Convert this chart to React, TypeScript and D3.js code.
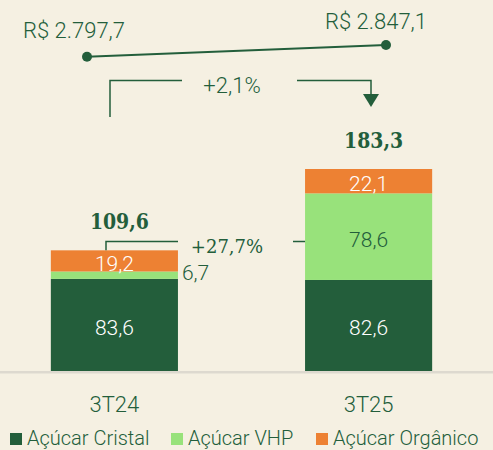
import React from "react";
import * as d3 from "d3";

const categories = ["3T24", "3T25"];
const seriesNames = ["Açúcar Cristal", "Açúcar VHP", "Açúcar Orgânico"];
const cristal = [83.6, 82.6];
const vhp = [6.7, 78.6];
const organico = [19.2, 22.1];
const totals = [109.6, 183.3];
const prices = [2797.7, 2847.1];
const priceLabels = ["R$ 2.797,7", "R$ 2.847,1"];
const priceChange = "+2,1%";
const volumeChange = "+27,7%";

const W = 493;
const H = 450;
const BG = "#f5f0e2";
const DARK = "#235e3b";
const LIGHT = "#98e27b";
const ORANGE = "#ed8133";
const TEXT = "#235e3b";
const SANS = "Roboto, 'Noto Sans', sans-serif";
const SERIF = "'Roboto Slab', 'DejaVu Serif', serif";

const fmt = (v: number) => v.toFixed(1).replace(".", ",");

export default function App() {
  const x = d3.scaleBand<string>().domain(categories).range([0, 483]).paddingInner(0.5).paddingOuter(0.2);
  const y = d3.scaleLinear().domain([0, 183.3]).range([371, 169]);
  const px = d3.scalePoint<string>().domain(categories).range([87, 386]);
  const py = d3.scaleLinear().domain([2797.7, 2847.1]).range([56.7, 45]);

  const rows = categories.map((c, i) => ({ cat: c, cristal: cristal[i], vhp: vhp[i], organico: organico[i] }));
  const keys = ["cristal", "vhp", "organico"];
  const stack = d3.stack<any>().keys(keys)(rows);
  const colors = [DARK, LIGHT, ORANGE];
  const labelColors = ["#ffffff", TEXT, "#ffffff"];

  const line = d3.line<number>().x((_, i) => px(categories[i])!).y((d) => py(d));

  const bw = x.bandwidth();
  const x0 = x(categories[0])!;
  const x1 = x(categories[1])!;
  const top0 = y(totals[0]);

  return (
    <svg width={W} height={H} style={{ position: "absolute", left: 0, top: 0, background: BG }}>
      <rect x={0} y={0} width={W} height={H} fill={BG} />
      {/* price line */}
      <path d={line(prices) || ""} fill="none" stroke={DARK} strokeWidth={2} />
      {prices.map((p, i) => (
        <circle key={i} cx={px(categories[i])} cy={py(p)} r={5} fill={DARK} />
      ))}
      <text x={23} y={38} fontFamily={SANS} fontWeight={300} fontSize={22} fill={TEXT}>{priceLabels[0]}</text>
      <text x={325} y={29} fontFamily={SANS} fontWeight={300} fontSize={22} fill={TEXT}>{priceLabels[1]}</text>

      {/* top bracket */}
      <path d="M110,117 V80.5 H182" fill="none" stroke={DARK} strokeWidth={1.5} />
      <path d="M297,80.5 H371 V95" fill="none" stroke={DARK} strokeWidth={1.5} />
      <path d="M363,94 L379,94 L371,107 Z" fill={DARK} />
      <text x={232} y={93} textAnchor="middle" fontFamily={SANS} fontWeight={300} fontSize={22} fill={TEXT}>{priceChange}</text>

      {/* baseline */}
      <rect x={0} y={371} width={W} height={2.5} fill="#ddd9cf" />

      {/* bars */}
      {stack.map((s, si) => (
        <g key={si}>
          {s.map((d, i) => (
            <rect key={i} x={x(categories[i])} y={y(d[1])} width={bw} height={y(d[0]) - y(d[1])} fill={colors[si]} />
          ))}
        </g>
      ))}
      {stack.map((s, si) =>
        s.map((d, i) => {
          const v = d[1] - d[0];
          const mid = (y(d[0]) + y(d[1])) / 2;
          if (si === 1 && i === 0) {
            return (
              <text key={`${si}-${i}`} x={x0 + bw + 4} y={mid + 5} fontFamily={SANS} fontWeight={300} fontSize={21} fill={TEXT}>{fmt(v)}</text>
            );
          }
          return (
            <text key={`${si}-${i}`} x={x(categories[i])! + bw / 2} y={mid + 10} textAnchor="middle" fontFamily={SANS} fontWeight={300} fontSize={21} fill={labelColors[si]}>{fmt(v)}</text>
          );
        })
      )}

      {/* totals */}
      {totals.map((t, i) => (
        <text key={i} transform={`translate(${x(categories[i])! + bw / 2 + 5},${y(t) - 21}) scale(0.82,1)`} textAnchor="middle" fontFamily={SERIF} fontWeight={700} fontSize={23} fill={TEXT}>{fmt(t)}</text>
      ))}

      {/* volume bracket */}
      <path d={`M106,${top0} V241.5 H178`} fill="none" stroke={DARK} strokeWidth={1.5} />
      <path d={`M293,241.5 H${x1}`} fill="none" stroke={DARK} strokeWidth={1.5} />
      <text x={227} y={253} textAnchor="middle" fontFamily={SERIF} fontWeight={300} fontSize={18} fill={TEXT}>{volumeChange}</text>

      {/* categories */}
      {categories.map((c) => (
        <text key={c} x={x(c)! + bw / 2} y={412} textAnchor="middle" fontFamily={SANS} fontWeight={300} fontSize={22} fill={TEXT}>{c}</text>
      ))}

      {/* legend */}
      {seriesNames.map((n, i) => {
        const sx = [10, 171, 316][i];
        return (
          <g key={n}>
            <rect x={sx} y={433} width={12} height={12} fill={colors[i]} />
            <text x={sx + 17} y={445} fontFamily={SANS} fontWeight={300} fontSize={20} fill={TEXT}>{n}</text>
          </g>
        );
      })}
    </svg>
  );
}
